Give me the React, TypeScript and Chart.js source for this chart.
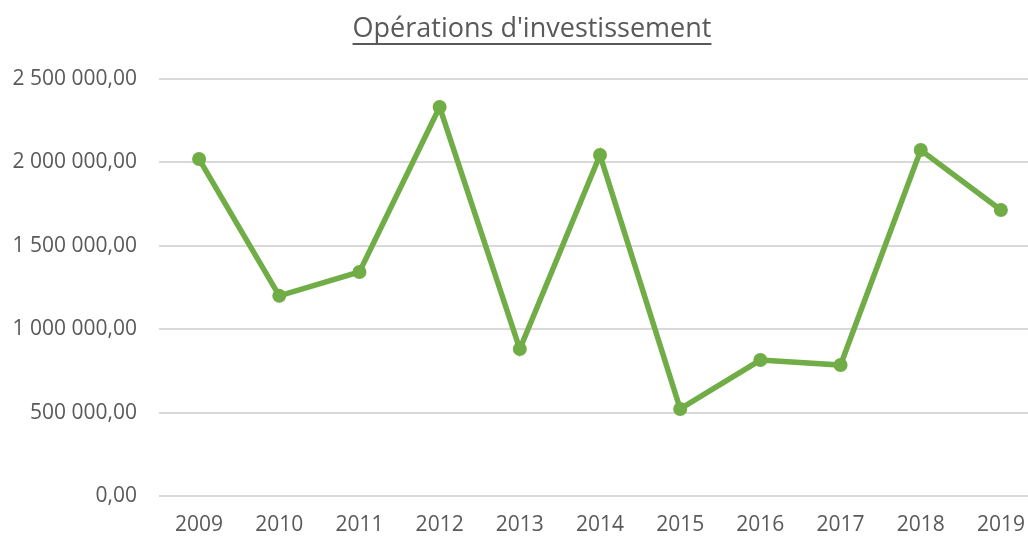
import React, { useEffect, useRef } from "react";
import { Chart, registerables } from "chart.js";

Chart.register(...registerables);

const TITLE = "Opérations d'investissement";
const years = ["2009", "2010", "2011", "2012", "2013", "2014", "2015", "2016", "2017", "2018", "2019"];
const investissement = [2020000, 1200000, 1343000, 2332000, 881000, 2044000, 522000, 815000, 785000, 2074000, 1715000];
const yMin = 0;
const yMax = 2500000;
const yStep = 500000;

const TEXT = "#595959";
const GREEN = "#70AD47";
const GRID = "#d9d9d9";
const FONT = "'Open Sans', sans-serif";

function frFormat(v: number): string {
  const [intPart, dec] = Math.abs(v).toFixed(2).split(".");
  const grouped = intPart.replace(/\B(?=(\d{3})+(?!\d))/g, " ");
  return (v < 0 ? "-" : "") + grouped + "," + dec;
}

const titlePlugin = {
  id: "underlinedTitle",
  afterDraw(chart: any) {
    const ctx = chart.ctx;
    ctx.save();
    ctx.font = `27px ${FONT}`;
    ctx.fillStyle = TEXT;
    ctx.textAlign = "center";
    ctx.textBaseline = "alphabetic";
    const cx = 532;
    const baseline = 37;
    ctx.fillText(TITLE, cx, baseline);
    const w = ctx.measureText(TITLE).width;
    ctx.strokeStyle = TEXT;
    ctx.lineWidth = 2;
    ctx.beginPath();
    ctx.moveTo(cx - w / 2, 44);
    ctx.lineTo(cx + w / 2, 44);
    ctx.stroke();
    ctx.restore();
  },
};

export default function App() {
  const ref = useRef<HTMLCanvasElement | null>(null);
  useEffect(() => {
    if (!ref.current) return;
    const chart = new Chart(ref.current, {
      type: "line",
      data: {
        labels: years,
        datasets: [
          {
            label: TITLE,
            data: investissement,
            borderColor: GREEN,
            backgroundColor: GREEN,
            borderWidth: 5.5,
            pointRadius: 7,
            pointBackgroundColor: GREEN,
            pointBorderColor: GREEN,
            pointBorderWidth: 0,
            tension: 0,
          },
        ],
      },
      options: {
        animation: false,
        responsive: false,
        maintainAspectRatio: false,
        layout: { autoPadding: false, padding: { top: 79, left: 0, right: 0, bottom: 0 } },
        plugins: {
          legend: { display: false },
          title: { display: false },
          tooltip: { enabled: false },
        },
        scales: {
          x: {
            offset: true,
            grid: { display: false, drawTicks: false },
            border: { display: false },
            ticks: { color: TEXT, font: { family: FONT, size: 21 }, padding: 16, maxRotation: 0 },
            afterFit(scale: any) {
              scale.height = 42;
            },
          },
          y: {
            min: yMin,
            max: yMax,
            grid: { color: GRID, lineWidth: 2, drawTicks: false },
            border: { display: false },
            ticks: {
              stepSize: yStep,
              color: TEXT,
              font: { family: FONT, size: 21 },
              padding: 22,
              callback: (v: any) => frFormat(Number(v)),
            },
            afterFit(scale: any) {
              scale.width = 159;
            },
          },
        },
      },
      plugins: [titlePlugin],
    });
    return () => chart.destroy();
  }, []);
  return (
    <div style={{ position: "fixed", left: 0, top: 0, width: 1028, height: 538, overflow: "hidden", background: "#fff" }}>
      <canvas ref={ref} width={1041} height={538} style={{ width: 1041, height: 538, display: "block" }} />
    </div>
  );
}
